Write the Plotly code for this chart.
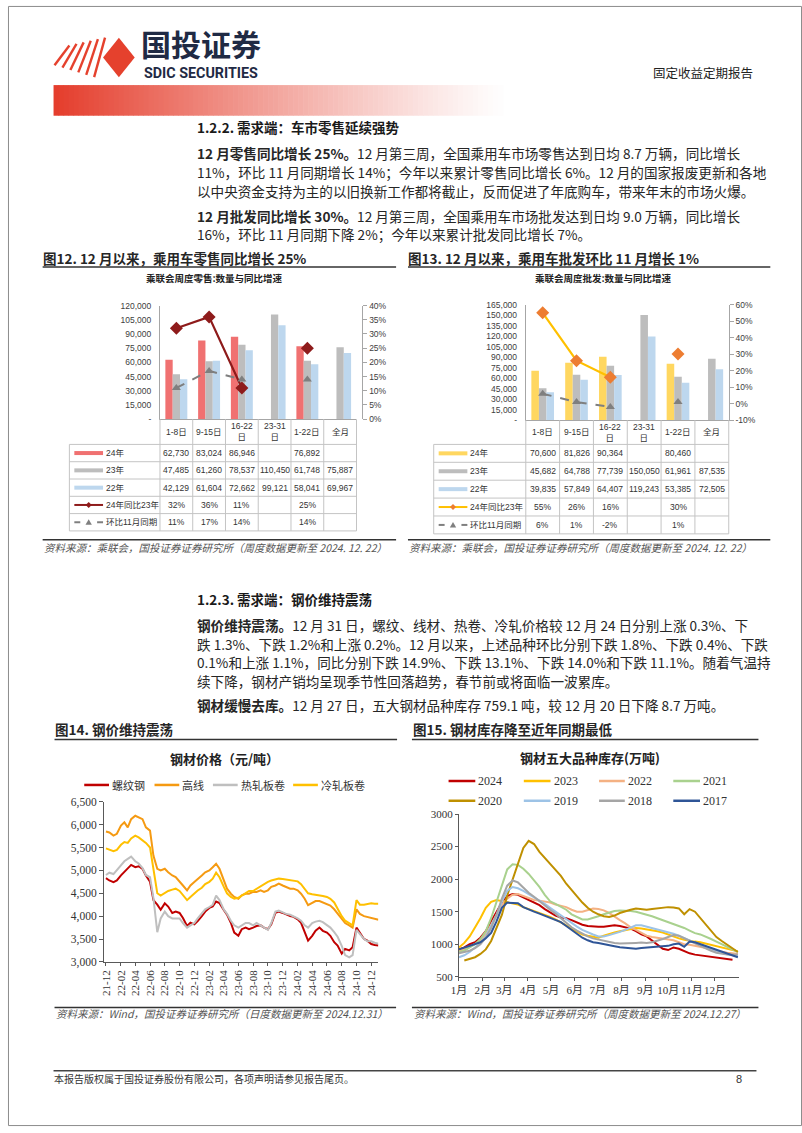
import plotly.graph_objects as go
import pandas as pd

# ===================== DATA =====================
# Figure 12 / 13 : weekly passenger-car retail & wholesale (CPCA)
week_cats = ["1-8日", "9-15日", "16-22日", "23-31日", "1-22日", "全月"]
week_cat_labels = ["1-8日", "9-15日", "16-22<br>日", "23-31<br>日", "1-22日", "全月"]
car_series_names = ["24年", "23年", "22年", "24年同比23年", "环比11月同期"]

retail_24 = [62730, 83024, 86946, None, 76892, None]
retail_23 = [47485, 61260, 78537, 110450, 61748, 75887]
retail_22 = [42129, 61604, 72662, 99121, 58041, 69967]
retail_yoy = [0.32, 0.36, 0.11, None, 0.25, None]
retail_mom = [0.11, 0.17, 0.14, None, 0.14, None]

whole_24 = [70600, 81826, 90364, None, 80460, None]
whole_23 = [45682, 64788, 77739, 150050, 61961, 87535]
whole_22 = [39835, 57849, 64407, 119243, 53385, 72505]
whole_yoy = [0.55, 0.26, 0.16, None, 0.30, None]
whole_mom = [0.06, 0.01, -0.02, None, 0.01, None]

# Figure 14 : steel prices (yuan/ton), semi-monthly readings
steel_names = ["螺纹钢", "高线", "热轧板卷", "冷轧板卷"]
price_dates = list(pd.date_range("2021-12-01", "2024-12-15", freq="SMS")) + [pd.Timestamp("2024-12-31")]
price_rebar = [4830, 4780, 4745, 4780, 4890, 4960, 5035, 5120, 5070, 5090, 5035, 4890,
               4750, 4350, 4250, 4140, 4280, 4210, 4070, 4100, 4070, 3960, 3785, 3855,
               3820, 3890, 4000, 4100, 4180, 4210, 4320, 4285, 4140, 4035, 3855, 3640,
               3570, 3715, 3750, 3715, 3750, 3785, 3800, 3750, 3715, 3820, 4070, 4100,
               4070, 4035, 4000, 3985, 3930, 3855, 3640, 3465, 3570, 3680, 3750, 3680,
               3640, 3570, 3430, 3355, 3180, 3285, 3250, 3320, 3750, 3640, 3500, 3465,
               3390, 3370, 3360]
price_wire = [5850, 5830, 5760, 5800, 5980, 6050, 5940, 6120, 6195, 6160, 6120, 5940,
              5870, 5325, 5035, 5000, 5035, 4960, 4890, 4855, 4745, 4670, 4565, 4670,
              4745, 4820, 4890, 4960, 5000, 5070, 5145, 5035, 4820, 4600, 4490, 4420,
              4380, 4455, 4490, 4490, 4530, 4530, 4565, 4530, 4565, 4640, 4670, 4710,
              4670, 4640, 4600, 4600, 4565, 4490, 4380, 4240, 4280, 4330, 4330, 4300,
              4270, 4230, 4150, 4050, 3950, 3850, 3800, 3750, 4150, 4050, 4000, 3980,
              3950, 3930, 3920]
price_hot = [4900, 4950, 4920, 5000, 5100, 5200, 5250, 5300, 5200, 5150, 5050, 4900,
             4850, 4400, 3650, 3950, 4100, 4000, 3950, 3950, 3950, 3850, 3750, 3800,
             3850, 3950, 4050, 4150, 4200, 4250, 4450, 4350, 4150, 4050, 3900, 3800,
             3750, 3800, 3850, 3850, 3800, 3850, 3800, 3750, 3700, 3850, 4100, 4120,
             4080, 4050, 4030, 4000, 3950, 3900, 3800, 3750, 3850, 3880, 3900, 3870,
             3800, 3750, 3650, 3550, 3350, 3150, 3100, 3150, 3700, 3600, 3500, 3450,
             3450, 3420, 3400]
price_cold = [5480, 5450, 5420, 5450, 5560, 5620, 5600, 5700, 5760, 5720, 5650, 5600,
              5500, 5000, 4500, 4450, 4500, 4550, 4580, 4600, 4550, 4450, 4350, 4420,
              4500, 4560, 4620, 4700, 4750, 4820, 4950, 4850, 4650, 4500, 4420, 4380,
              4400, 4450, 4500, 4550, 4550, 4600, 4650, 4700, 4750, 4780, 4800, 4820,
              4810, 4800, 4790, 4780, 4760, 4700, 4600, 4500, 4480, 4470, 4460, 4440,
              4420, 4380, 4300, 4150, 4000, 3900, 3850, 3800, 4350, 4250, 4250, 4270,
              4280, 4270, 4270]

# Figure 15 : five major steel inventories (10k tons), weekly readings, week 0..52
inv_years = ["2024", "2023", "2022", "2021", "2020", "2019", "2018", "2017"]
inv_weeks = list(range(53))
inv_month_labels = ["1月", "2月", "3月", "4月", "5月", "6月", "7月", "8月", "9月", "10月", "11月", "12月"]
inv_month_start_day = [0, 31, 59, 90, 120, 151, 181, 212, 243, 273, 304, 334]
inv_2024 = [920, 950, 1000, 1030, 1100, 1200, 1350, 1500, 1640, 1740,
            1770, 1760, 1720, 1680, 1640, 1600, 1540, 1490, 1440, 1410,
            1400, 1370, 1330, 1300, 1280, 1270, 1270, 1270, 1280, 1290,
            1280, 1260, 1240, 1200, 1150, 1120, 1060, 990, 930, 910,
            950, 930, 890, 860, 840, 830, 820, 800, 790, 785,
            775, 760, None]
inv_2023 = [950, 1020, 1120, 1250, 1400, 1560, 1650, 1680, 1660, 1640,
            1620, 1610, 1570, 1540, 1520, 1480, 1450, 1420, 1380, 1340,
            1290, 1230, 1190, 1150, 1130, 1110, 1100, 1130, 1160, 1180,
            1200, 1220, 1240, 1250, 1240, 1230, 1220, 1200, 1180, 1150,
            1110, 1090, 1070, 1050, 1040, 1030, 1010, 990, 970, 950,
            930, 910, 890]
inv_2022 = [900, 920, 960, 1000, 1050, 1150, 1300, 1450, 1600, 1700,
            1760, 1770, 1740, 1700, 1680, 1670, 1660, 1640, 1610, 1590,
            1570, 1530, 1500, 1500, 1530, 1550, 1540, 1520, 1480, 1420,
            1370, 1320, 1260, 1220, 1170, 1130, 1110, 1100, 1090, 1080,
            1060, 1030, 1000, 990, 975, 960, 940, 925, 900, 880,
            870, 860, 850]
inv_2021 = [880, 900, 950, 1000, 1080, 1200, 1400, 1650, 1900, 2150,
            2230, 2220, 2160, 2080, 1980, 1880, 1760, 1660, 1620, 1580,
            1530, 1460, 1420, 1380, 1380, 1400, 1430, 1460, 1490, 1510,
            1520, 1520, 1510, 1500, 1480, 1460, 1430, 1400, 1370, 1340,
            1320, 1290, 1250, 1210, 1170, 1150, 1120, 1080, 1040, 1000,
            960, 920, 880]
inv_2020 = [None, 750, 770, 800, 850, 920, 1050, 1250, 1450, 1750,
            2000, 2250, 2480, 2590, 2540, 2420, 2330, 2240, 2150, 2050,
            1930, 1830, 1730, 1640, 1560, 1500, 1460, 1430, 1420, 1440,
            1480, 1510, 1530, 1550, 1540, 1530, 1540, 1550, 1560, 1570,
            1565, 1550, 1460, 1540, 1500, 1400, 1300, 1200, 1110, 1050,
            990, 930, 880]
inv_2019 = [800, 830, 880, 950, 1020, 1120, 1280, 1450, 1650, 1820,
            1880, 1860, 1820, 1770, 1720, 1680, 1620, 1560, 1500, 1440,
            1380, 1320, 1270, 1220, 1180, 1150, 1120, 1120, 1140, 1160,
            1190, 1220, 1260, 1290, 1290, 1270, 1250, 1230, 1210, 1190,
            1160, 1130, 1100, 1060, 1020, 980, 950, 910, 880, 860,
            840, 830, 820]
inv_2018 = [860, 880, 900, 940, 1000, 1100, 1250, 1450, 1700, 1900,
            1980, 1950, 1870, 1790, 1730, 1660, 1590, 1530, 1470, 1400,
            1330, 1260, 1210, 1160, 1120, 1090, 1070, 1050, 1030, 1020,
            1010, 1010, 1010, 1020, 1025, 1020, 1030, 1050, 1080, 1110,
            1140, 1130, 1090, 1050, 1010, 970, 930, 900, 870, 850,
            840, 840, 840]
inv_2017 = [920, 950, 980, 1000, 1030, 1090, 1175, 1350, 1560, 1640,
            1640, 1630, 1570, 1530, 1500, 1470, 1440, 1410, 1380, 1340,
            1280, 1220, 1160, 1100, 1060, 1030, 1020, 1000, 980, 970,
            955, 945, 935, 930, 940, 945, 950, 955, 960, 975,
            1000, 1010, 960, 1040, 1030, 1000, 980, 950, 920, 880,
            850, 820, 800]

# ===================== PAGE HELPERS =====================
W, H = 802, 1133
CJK = "Noto Sans CJK SC"
SANS = "Liberation Sans, Arial, Noto Sans CJK SC"
SERIF = "Liberation Serif, Times New Roman, Noto Sans CJK SC"
TXT = "#262626"


def X(px):
    return px / W


def Y(py):
    return 1 - py / H


shapes = []
annotations = []


def ann(text, x, y, size, color=TXT, family=CJK, xanchor="left", yanchor="middle",
        xref="paper", yref="paper", textangle=0):
    annotations.append(dict(
        text=text, x=(X(x) if xref == "paper" else x), y=(Y(y) if yref == "paper" else y),
        xref=xref, yref=yref, showarrow=False, xanchor=xanchor, yanchor=yanchor,
        align="left" if xanchor == "left" else "center", textangle=textangle,
        font=dict(size=size, color=color, family=family), borderpad=0, borderwidth=0))


def line(x0, y0, x1, y1, color, width=1, dash="solid"):
    shapes.append(dict(type="line", xref="paper", yref="paper", x0=X(x0), y0=Y(y0),
                       x1=X(x1), y1=Y(y1), line=dict(color=color, width=width, dash=dash)))


def rect(x0, y0, x1, y1, fill, lw=0, lc=None):
    shapes.append(dict(type="rect", xref="paper", yref="paper", x0=X(x0), y0=Y(y0),
                       x1=X(x1), y1=Y(y1), fillcolor=fill, layer="below",
                       line=dict(width=lw, color=lc or fill)))


def poly(pts, fill):
    p = "M " + " L ".join(f"{X(a)} {Y(b)}" for a, b in pts) + " Z"
    shapes.append(dict(type="path", xref="paper", yref="paper", path=p, fillcolor=fill,
                       line=dict(width=0, color=fill)))


# ---------- page frame / header ----------
shapes.append(dict(type="rect", xref="paper", yref="paper", x0=0.0006, y0=0.0004, x1=0.9994, y1=0.9996,
                   line=dict(color="#8c8c8c", width=1)))
RED = "#E5412D"
for i in range(6):
    t = i / 5
    line(47 + 40 * t, 60 + 12 * t, 62 + 36 * t, 40 - 8 * t, RED, 2.4)
poly([(96, 52), (112, 32), (128, 52), (112, 72)], RED)
ann("<b>国投证券</b>", 134, 59.5, 30, color="#1F2A44", yanchor="bottom")
ann("<b>SDIC SECURITIES</b>", 137, 60, 14.3, color="#1F2A44", family="Roboto", yanchor="top")
ann("固定收益定期报告", 702, 67, 12.5, color="#222222", xanchor="center")
n_g = 90
for i in range(n_g):
    t = i / n_g
    a = (1 - t) ** 1.15
    r = int(229 * a + 255 * (1 - a)); g = int(62 * a + 255 * (1 - a)); b = int(45 * a + 255 * (1 - a))
    x0 = 46 + i * (454 / n_g)
    rect(x0, 80, x0 + 454 / n_g + 0.6, 111, f"rgb({r},{g},{b})")

# ---------- body text ----------
BODY = 13.6
ann("<b>1.2.2. 需求端：车市零售延续强势</b>", 191, 122, 13.5, color="#1a1a1a")
body1 = [
    ("<b>12 月零售同比增长 25%。</b>12 月第三周，全国乘用车市场零售达到日均 8.7 万辆，同比增长", 149),
    ("11%，环比 11 月同期增长 14%；今年以来累计零售同比增长 6%。12 月的国家报废更新和各地", 168),
    ("以中央资金支持为主的以旧换新工作都将截止，反而促进了年底购车，带来年末的市场火爆。", 187),
    ("<b>12 月批发同比增长 30%。</b>12 月第三周，全国乘用车市场批发达到日均 9.0 万辆，同比增长", 212),
    ("16%，环比 11 月同期下降 2%；今年以来累计批发同比增长 7%。", 231),
]
for txt, yy in body1:
    ann(txt, 191, yy, BODY)

ann("<b>1.2.3. 需求端：钢价维持震荡</b>", 191, 600, 13.5, color="#1a1a1a")
body2 = [
    ("<b>钢价维持震荡。</b>12 月 31 日，螺纹、线材、热卷、冷轧价格较 12 月 24 日分别上涨 0.3%、下", 626),
    ("跌 1.3%、下跌 1.2%和上涨 0.2%。12 月以来，上述品种环比分别下跌 1.8%、下跌 0.4%、下跌", 645),
    ("0.1%和上涨 1.1%，同比分别下跌 14.9%、下跌 13.1%、下跌 14.0%和下跌 11.1%。随着气温持", 664),
    ("续下降，钢材产销均呈现季节性回落趋势，春节前或将面临一波累库。", 683),
    ("<b>钢材缓慢去库。</b>12 月 27 日，五大钢材品种库存 759.1 吨，较 12 月 20 日下降 8.7 万吨。", 707),
]
for txt, yy in body2:
    ann(txt, 191, yy, BODY)

# ---------- figure titles / sources ----------
ann("<b>图12. 12 月以来，乘用车零售同比增长 25%</b>", 35, 255, 13.5)
line(35, 264, 392, 264, "#333333", 1.5)
ann("<b>图13. 12 月以来，乘用车批发环比 11 月增长 1%</b>", 404, 255, 13.5)
line(404, 264, 770, 264, "#333333", 1.5)
line(35, 540, 392, 540, "#333333", 1.5)
ann("<i>资料来源：乘联会，国投证券证券研究所（周度数据更新至 2024. 12. 22）</i>", 36, 547.5, 10.5, color="#555555")
line(404, 540, 770, 540, "#333333", 1.5)
ann("<i>资料来源：乘联会，国投证券证券研究所（周度数据更新至 2024. 12. 22）</i>", 405, 547.5, 10.5, color="#555555")

ann("<b>图14. 钢价维持震荡</b>", 47, 731, 13.5)
line(47, 742, 393, 742, "#333333", 1.5)
ann("<b>图15. 钢材库存降至近年同期最低</b>", 409, 731, 13.5)
line(408, 742, 758, 742, "#333333", 1.5)
line(47, 1013, 392, 1013, "#333333", 1.5)
ann("<i>资料来源：Wind，国投证券证券研究所（日度数据更新至 2024.12.31）</i>", 48, 1019.5, 10.5, color="#555555")
line(408, 1013, 758, 1013, "#333333", 1.5)
ann("<i>资料来源：Wind，国投证券证券研究所（周度数据更新至 2024.12.27）</i>", 410, 1019.5, 10.5, color="#555555")

# footer
line(46, 1077, 756, 1077, "#444444", 1.5)
ann("本报告版权属于国投证券股份有限公司，各项声明请参见报告尾页。", 46, 1085, 10, color="#333333")
ann("8", 738, 1085, 11, color="#333333", family=SANS, xanchor="center")

# ===================== CHARTS 12 & 13 =====================
fig = go.Figure()
C_RED24, C_YEL24, C_GRAY, C_BLUE = "#F07171", "#FFD760", "#BDBDBD", "#BDD7EE"
C_YOY12, C_YOY13, C_YOY13M, C_MOM = "#8E1B1B", "#FFC000", "#ED7D31", "#7F7F7F"

for vals, col, nm in [(retail_24, C_RED24, car_series_names[0]), (retail_23, C_GRAY, car_series_names[1]),
                      (retail_22, C_BLUE, car_series_names[2])]:
    fig.add_trace(go.Bar(x=week_cats, y=vals, name=nm, marker=dict(color=col, line=dict(width=0)),
                         xaxis="x", yaxis="y"))
fig.add_trace(go.Scatter(x=week_cats, y=retail_yoy, name=car_series_names[3], mode="lines+markers",
                         line=dict(color=C_YOY12, width=2.2), marker=dict(symbol="diamond", size=10, color=C_YOY12),
                         xaxis="x", yaxis="y2"))
fig.add_trace(go.Scatter(x=week_cats, y=retail_mom, name=car_series_names[4], mode="lines+markers",
                         line=dict(color=C_MOM, width=2, dash="dash"),
                         marker=dict(symbol="triangle-up", size=8, color=C_MOM), xaxis="x", yaxis="y2"))

for vals, col, nm in [(whole_24, C_YEL24, car_series_names[0]), (whole_23, C_GRAY, car_series_names[1]),
                      (whole_22, C_BLUE, car_series_names[2])]:
    fig.add_trace(go.Bar(x=week_cats, y=vals, name=nm, marker=dict(color=col, line=dict(width=0)),
                         xaxis="x2", yaxis="y3"))
fig.add_trace(go.Scatter(x=week_cats, y=whole_yoy, name=car_series_names[3], mode="lines+markers",
                         line=dict(color=C_YOY13, width=2.2), marker=dict(symbol="diamond", size=10, color=C_YOY13M),
                         xaxis="x2", yaxis="y4"))
fig.add_trace(go.Scatter(x=week_cats, y=whole_mom, name=car_series_names[4], mode="lines+markers",
                         line=dict(color=C_MOM, width=2, dash="dash"),
                         marker=dict(symbol="triangle-up", size=8, color=C_MOM), xaxis="x2", yaxis="y4"))

fmt_num = lambda v: f"{v:,}"
fmt_pct = lambda v: f"{round(v * 100):d}%"


def draw_table(xref, dom_l, dom_r, label_l, top, head_b, row_h, rows, sw0, sw1, tx):
    n = len(week_cats)
    cw = (dom_r - dom_l) / n
    bottom = head_b + row_h * len(rows)
    B = "#C4C4C4"
    for i in range(n + 1):
        line(dom_l + i * cw, top, dom_l + i * cw, bottom, B)
    line(label_l, head_b, label_l, bottom, B)
    for r in range(len(rows) + 1):
        line(label_l, head_b + r * row_h, dom_r, head_b + r * row_h, B)
    for c, lab in zip(week_cats, week_cat_labels):
        ann(lab, c, (top + head_b) / 2, 8.5, color="#333333", family=SANS, xref=xref, xanchor="center")
    for r, (name, vals, fmt, kind, col, col2) in enumerate(rows):
        yc = head_b + (r + 0.5) * row_h
        mid = (sw0 + sw1) / 2
        if kind == "bar":
            line(sw0, yc, sw1, yc, col, 4)
        elif kind == "line":
            line(sw0, yc, sw1, yc, col, 2)
            poly([(mid - 3, yc), (mid, yc - 3), (mid + 3, yc), (mid, yc + 3)], col2)
        else:
            line(sw0, yc, sw0 + 6, yc, col, 2)
            line(sw1 - 6, yc, sw1, yc, col, 2)
            poly([(mid - 3.2, yc + 2.6), (mid, yc - 3), (mid + 3.2, yc + 2.6)], col)
        ann(name, tx, yc, 8.5, color="#333333", family=SANS)
        for c, v in zip(week_cats, vals):
            if v is not None:
                ann(fmt(v), c, yc, 8.5, color="#333333", family=SANS, xref=xref, xanchor="center")


rows12 = [
    (car_series_names[0], retail_24, fmt_num, "bar", C_RED24, None),
    (car_series_names[1], retail_23, fmt_num, "bar", C_GRAY, None),
    (car_series_names[2], retail_22, fmt_num, "bar", C_BLUE, None),
    (car_series_names[3], retail_yoy, fmt_pct, "line", C_YOY12, C_YOY12),
    (car_series_names[4], retail_mom, fmt_pct, "dash", C_MOM, None),
]
rows13 = [
    (car_series_names[0], whole_24, fmt_num, "bar", C_YEL24, None),
    (car_series_names[1], whole_23, fmt_num, "bar", C_GRAY, None),
    (car_series_names[2], whole_22, fmt_num, "bar", C_BLUE, None),
    (car_series_names[3], whole_yoy, fmt_pct, "line", C_YOY13, C_YOY13M),
    (car_series_names[4], whole_mom, fmt_pct, "dash", C_MOM, None),
]
draw_table("x", 153.5, 352, 62, 418, 443.5, 17.5, rows12, 67, 96, 99)
draw_table("x2", 523, 728, 430, 419, 443.5, 18.1, rows13, 435, 464, 467)

ann("<b>乘联会周度零售:数量与同比增速</b>", 209, 275, 9.5, color="#222222", xanchor="center")
ann("<b>乘联会周度批发:数量与同比增速</b>", 601, 275, 9.5, color="#222222", xanchor="center")

# ===================== CHART 14 =====================
steel_series = [price_rebar, price_wire, price_hot, price_cold]
steel_colors = ["#C00000", "#F59A12", "#BFBFBF", "#FFC000"]
for nm, vals, col in zip(steel_names, steel_series, steel_colors):
    fig.add_trace(go.Scatter(x=price_dates, y=vals, name=nm, mode="lines",
                             line=dict(color=col, width=2), xaxis="x3", yaxis="y5"))
ann("<b>钢材价格（元/吨）</b>", 218.5, 761, 13, color="#222222", xanchor="center")
leg14 = [(77, 102), (148, 173), (207, 232), (288, 313)]
for nm, col, (a, b) in zip(steel_names, steel_colors, leg14):
    line(a, 788, b, 788, col, 2.5)
    ann(nm, b + 3, 788, 11, color="#333333")

# ===================== CHART 15 =====================
inv_series = [inv_2024, inv_2023, inv_2022, inv_2021, inv_2020, inv_2019, inv_2018, inv_2017]
inv_colors = ["#C00000", "#FFC000", "#F4B183", "#A9D18E", "#BF9000", "#9DC3E6", "#A5A5A5", "#2F5597"]
for nm, vals, col in zip(inv_years, inv_series, inv_colors):
    fig.add_trace(go.Scatter(x=inv_weeks, y=vals, name=nm, mode="lines",
                             line=dict(color=col, width=2), xaxis="x4", yaxis="y6"))
ann("<b>钢材五大品种库存(万吨)</b>", 587.5, 760, 13, color="#222222", xanchor="center")
leg15_x = [(445, 472), (521, 548), (597, 623), (672, 699)]
leg15_y = [784, 804]
for k, (nm, col) in enumerate(zip(inv_years, inv_colors)):
    a, b = leg15_x[k % 4]
    yy = leg15_y[k // 4]
    line(a, yy, b, yy, col, 2.5)
    ann(nm, b + 3, yy, 12, color="#333333", family=SERIF)

# ===================== AXES =====================
f12 = dict(family=SANS, size=8.5, color="#404040")
fser = dict(family=SERIF, size=11.5, color="#333333")
AX = "#A6A6A6"

y12_vals = list(range(0, 120001, 15000))
y13_vals = list(range(0, 165001, 15000))
p12 = list(range(0, 41, 5))
p13 = list(range(-10, 61, 10))

layout = dict(
    width=W, height=H, margin=dict(l=0, r=0, t=0, b=0), autosize=False,
    paper_bgcolor="white", plot_bgcolor="rgba(0,0,0,0)", showlegend=False,
    barmode="group", bargap=0.33, bargroupgap=0,
    font=dict(family=CJK),
    xaxis=dict(domain=[X(153.5), X(352)], anchor="y", type="category", range=[-0.5, 5.5],
               showticklabels=False, ticks="", showline=True, linecolor=AX, showgrid=False,
               zeroline=False, fixedrange=True),
    yaxis=dict(domain=[Y(418), Y(303)], anchor="x", range=[0, 120000], tickvals=y12_vals,
               ticktext=["-" if v == 0 else f"{v:,}" for v in y12_vals], showline=True, linecolor=AX,
               ticks="outside", ticklen=6, tickcolor="rgba(0,0,0,0)", showgrid=False, zeroline=False,
               tickfont=f12),
    yaxis2=dict(overlaying="y", side="right", anchor="free", position=X(358), range=[0, 0.4],
                tickvals=[v / 100 for v in p12], ticktext=[f"{v}%" for v in p12], showline=True,
                linecolor=AX, ticks="outside", ticklen=4, tickcolor=AX, showgrid=False, zeroline=False,
                tickfont=f12),
    xaxis2=dict(domain=[X(523), X(728)], anchor="y3", type="category", range=[-0.5, 5.5],
                showticklabels=False, ticks="", showline=True, linecolor=AX, showgrid=False,
                zeroline=False),
    yaxis3=dict(domain=[Y(419), Y(302)], anchor="x2", range=[0, 165000], tickvals=y13_vals,
                ticktext=["-" if v == 0 else f"{v:,}" for v in y13_vals], showline=True, linecolor=AX,
                ticks="outside", ticklen=6, tickcolor="rgba(0,0,0,0)", showgrid=False, zeroline=False,
                tickfont=f12),
    yaxis4=dict(overlaying="y3", side="right", anchor="x2", range=[-0.1, 0.6],
                tickvals=[v / 100 for v in p13], ticktext=[f"{v}%" for v in p13], showline=True,
                linecolor=AX, ticks="outside", ticklen=4, tickcolor=AX, showgrid=False, zeroline=False,
                tickfont=f12),
    xaxis3=dict(domain=[X(97), X(374)], anchor="y5", type="date", range=["2021-11-23", "2024-12-30"],
                tick0="2021-12-01", dtick="M2", tickformat="%y-%m", tickangle=-90, ticks="outside",
                ticklen=3, tickcolor="#595959", showline=True, linecolor="#595959", showgrid=False,
                zeroline=False, tickfont=dict(family=SERIF, size=11, color="#333333")),
    yaxis5=dict(domain=[Y(967), Y(805)], anchor="x3", range=[3000, 6500], dtick=500, tickformat=",",
                ticks="outside", ticklen=4, tickcolor="#595959", showline=True, linecolor="#595959",
                showgrid=False, zeroline=False, tickfont=fser),
    xaxis4=dict(domain=[X(455.5), X(738)], anchor="y6", range=[0, 365 / 7],
                tickvals=[d / 7 for d in inv_month_start_day], ticktext=inv_month_labels, ticks="outside",
                tickangle=0, ticklen=3, tickcolor="#595959", showline=True, linecolor="#595959",
                showgrid=False, zeroline=False, tickfont=dict(family=SERIF, size=11, color="#333333")),
    yaxis6=dict(domain=[Y(982), Y(817.5)], anchor="x4", range=[500, 3000], dtick=500, tickformat="d",
                ticks="outside", ticklen=3, tickcolor="#595959", showline=True, linecolor="#595959",
                showgrid=False, zeroline=False, tickfont=dict(family=SERIF, size=11, color="#333333")),
    shapes=shapes, annotations=annotations,
)
fig.update_layout(**layout)
fig.write_html("out.html", config={"displayModeBar": False},
               post_script="document.body.style.margin='0px';document.body.style.padding='0px';"
                           "document.documentElement.style.overflow='hidden';")
